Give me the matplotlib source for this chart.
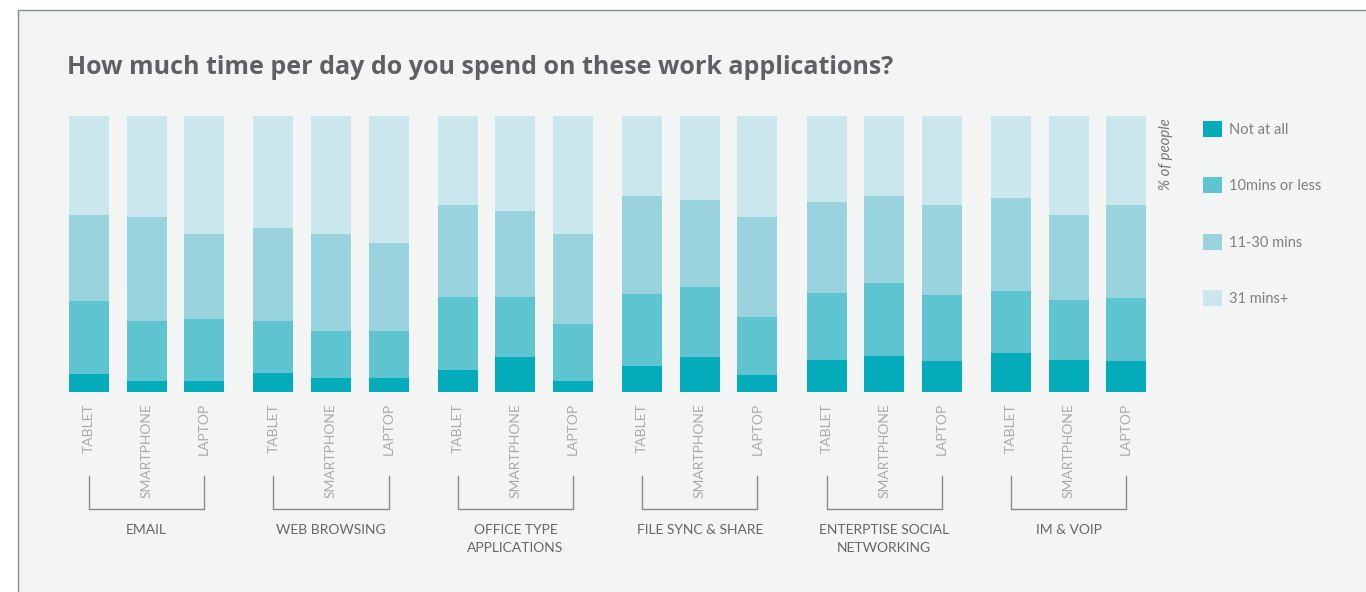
import numpy as np
import matplotlib.pyplot as plt
from matplotlib.patches import Rectangle

############################# Data ####################################
groups = ["EMAIL", "WEB BROWSING", "OFFICE TYPE\nAPPLICATIONS", "FILE SYNC & SHARE",
          "ENTERPTISE SOCIAL\nNETWORKING", "IM & VOIP"]
devices = ["TABLET", "SMARTPHONE", "LAPTOP"]
series = ["Not at all", "10mins or less", "11-30 mins", "31 mins+"]

# % of people, bars in order group by group: tablet, smartphone, laptop
not_at_all = [6.5, 4.0, 4.0,   6.9, 5.1, 5.1,   8.0, 12.7, 4.0,   9.4, 12.7, 6.2,   11.6, 13.0, 11.2,   14.1, 11.6, 11.2]
ten_or_less = [26.4, 21.7, 22.5,   18.8, 17.0, 17.0,   26.4, 21.7, 20.7,   26.1, 25.4, 21.0,   24.3, 26.4, 23.9,   22.5, 21.7, 22.8]
eleven_30 = [31.2, 37.7, 30.8,   33.7, 35.1, 31.9,   33.4, 31.2, 32.5,   35.5, 31.5, 36.2,   33.0, 31.6, 32.7,   33.7, 30.8, 33.8]
over_31 = [35.9, 36.6, 42.7,   40.6, 42.8, 46.0,   32.2, 34.4, 42.8,   29.0, 30.4, 36.6,   31.1, 29.0, 32.2,   29.7, 35.9, 32.2]

colors = ["#03abbb", "#5ec5d0", "#99d4de", "#c9e7ec"]
bg = "#f3f4f4"

############################# Figure ####################################
fig = plt.figure(figsize=(13.66, 5.92), dpi=100)
fig.patch.set_facecolor("white")
W, H = 1366, 592
fig.patches.append(Rectangle((18 / W, -0.01), 1.0, 1 - 10 / H + 0.01, transform=fig.transFigure,
                             facecolor=bg, edgecolor="#8c8c8c", linewidth=1.0, zorder=-5))

ax = fig.add_axes([60 / W, (H - 392) / H, 1100 / W, 276 / H])
ax.set_facecolor("none")

gstep, dstep = 4.61, 1.44
x = np.array([g * gstep + d * dstep for g in range(len(groups)) for d in range(len(devices))])

vals = [not_at_all, ten_or_less, eleven_30, over_31]
bottom = np.zeros(len(x))
for v, c, name in zip(vals, colors, series):
    ax.bar(x, v, width=1.0, bottom=bottom, color=c, label=name, linewidth=0)
    bottom += np.array(v)

ax.set_xlim(-(89 - 60) / 40, (1160 - 89) / 40)
ax.set_ylim(0, 100)
ax.axis("off")

tr = ax.get_xaxis_transform()
for i, xi in enumerate(x):
    ax.text(xi, -11 / 276, devices[i % 3], rotation=90, ha="center", va="top",
            transform=tr, fontsize=10, color="#aaaaaa", family="Lato")

for g, name in enumerate(groups):
    x0, x1 = x[g * 3], x[g * 3 + 2]
    ax.plot([x0, x0, x1, x1], [-84 / 276, -117 / 276, -117 / 276, -84 / 276],
            transform=tr, color="#8a8a8a", linewidth=1.0, clip_on=False)
    ax.text(x[g * 3 + 1], -132 / 276, name, ha="center", va="top", transform=tr,
            fontsize=10, color="#666666", family="Lato", linespacing=1.65)

fig.text(67 / W, 1 - 68 / H, "How much time per day do you spend on these work applications?",
         fontsize=18, fontweight="bold", color="#5f6062", family="Open Sans", va="center", ha="left")

fig.text(1166 / W, 1 - 118 / H, "% of people", rotation=90, ha="center", va="top",
         fontsize=10.8, style="italic", color="#777777", family="Lato")

fig.legend(loc="upper left", bbox_to_anchor=(1203 / W, 1 - 121 / H), frameon=False,
           handlelength=1.3, handleheight=1.3, labelspacing=2.78,
           handletextpad=0.45, borderpad=0, borderaxespad=0, labelcolor="#808080",
           prop={"family": "Lato", "size": 10.5})

fig.savefig("out.png", dpi=100, facecolor=fig.get_facecolor())
